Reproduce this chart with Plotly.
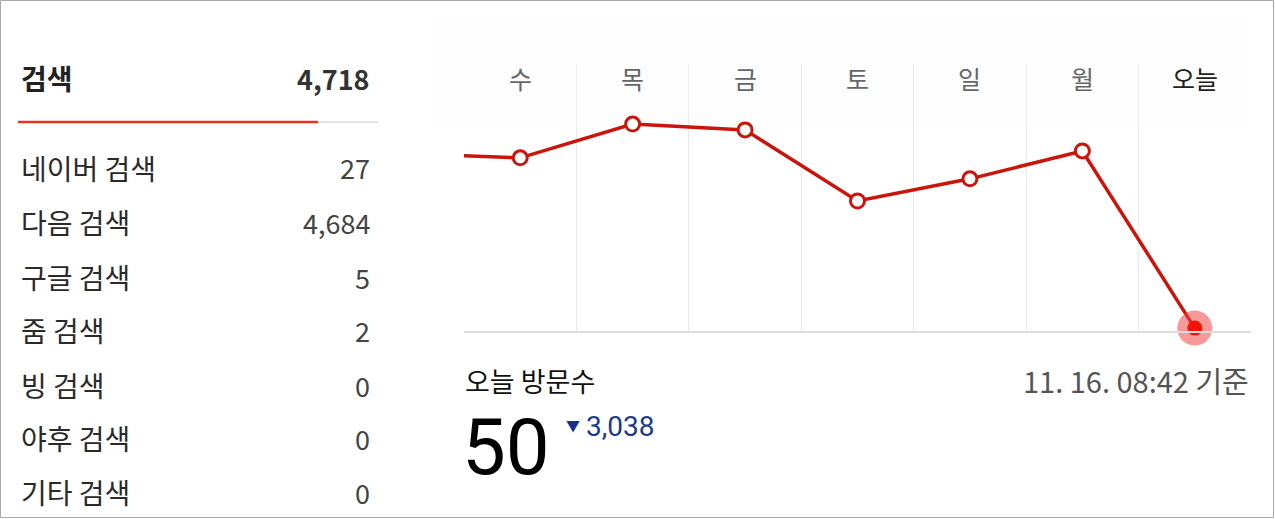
import plotly.graph_objects as go

W, H = 1275, 519

# ---- data ----
days = ["수", "목", "금", "토", "일", "월", "오늘"]
prev_value = 3040          # previous day (화), off the left edge
visits = [2970, 3550, 3450, 2230, 2610, 3088, 50]
today_label = "오늘 방문수"
today_value = "50"
diff_value = "3,038"
timestamp = "11. 16. 08:42 기준"

search_total_label = "검색"
search_total = "4,718"
search_sources = ["네이버 검색", "다음 검색", "구글 검색", "줌 검색", "빙 검색", "야후 검색", "기타 검색"]
search_counts = ["27", "4,684", "5", "2", "0", "0", "0"]

FONT = "Noto Sans CJK KR"
RED = "#c9150c"


def py(p):
    return (H - p) / H


def px(p):
    return p / W


x_idx = list(range(len(days)))

fig = go.Figure()
# line including previous day so it runs off the left edge
fig.add_trace(go.Scatter(
    x=[-1] + x_idx, y=[prev_value] + visits, mode="lines",
    line=dict(color=RED, width=3.5), hoverinfo="skip", showlegend=False))
# hollow markers
fig.add_trace(go.Scatter(
    x=x_idx[:-1], y=visits[:-1], mode="markers",
    marker=dict(size=14, color="white", line=dict(color=RED, width=3)),
    cliponaxis=False, showlegend=False))
# today halo + dot
fig.add_trace(go.Scatter(
    x=x_idx[-1:], y=visits[-1:], mode="markers",
    marker=dict(size=35, color="rgba(240,70,70,0.55)", line=dict(width=0)),
    cliponaxis=False, showlegend=False, hoverinfo="skip"))
fig.add_trace(go.Scatter(
    x=x_idx[-1:], y=visits[-1:], mode="markers",
    marker=dict(size=15, color="#f01409", line=dict(width=0)),
    cliponaxis=False, showlegend=False))

annotations = []
# day labels
for i, d in enumerate(days):
    annotations.append(dict(
        x=i, xref="x", y=py(78), yref="paper", text=d, showarrow=False,
        xanchor="center", yanchor="middle",
        font=dict(family=FONT, size=25, color="#222" if d == "오늘" else "#666")))

# left panel
annotations.append(dict(x=px(19), y=py(78), xref="paper", yref="paper",
                        text="<b>" + search_total_label + "</b>", showarrow=False,
                        xanchor="left", yanchor="middle",
                        font=dict(family=FONT, size=28, color="#222")))
annotations.append(dict(x=px(372), y=py(78), xref="paper", yref="paper",
                        text="<b>" + search_total + "</b>", showarrow=False,
                        xanchor="right", yanchor="middle",
                        font=dict(family=FONT, size=27, color="#333")))
row_y = [168, 222, 277, 330, 385, 438, 492]
for lab, val, yy in zip(search_sources, search_counts, row_y):
    annotations.append(dict(x=px(19), y=py(yy), xref="paper", yref="paper",
                            text=lab, showarrow=False, xanchor="left", yanchor="middle",
                            font=dict(family=FONT, size=28, color="#2a2a2a")))
    annotations.append(dict(x=px(372), y=py(yy), xref="paper", yref="paper",
                            text=val, showarrow=False, xanchor="right", yanchor="middle",
                            font=dict(family=FONT, size=27, color="#444")))

# bottom right texts
annotations.append(dict(x=px(463), y=py(380), xref="paper", yref="paper",
                        text=today_label, showarrow=False, xanchor="left", yanchor="middle",
                        font=dict(family=FONT, size=27, color="#111")))
annotations.append(dict(x=px(1251), y=py(380), xref="paper", yref="paper",
                        text=timestamp, showarrow=False, xanchor="right", yanchor="middle",
                        font=dict(family=FONT, size=29, color="#555")))
annotations.append(dict(x=px(460), y=py(447), xref="paper", yref="paper",
                        text=today_value, showarrow=False, xanchor="left", yanchor="middle",
                        font=dict(family="Roboto", size=78, color="#000")))
annotations.append(dict(x=px(564), y=py(425), xref="paper", yref="paper",
                        text="▼", showarrow=False, xanchor="left", yanchor="middle",
                        font=dict(family=FONT, size=14, color="#1b2f8f")))
annotations.append(dict(x=px(584), y=py(427), xref="paper", yref="paper",
                        text=diff_value, showarrow=False, xanchor="left", yanchor="middle",
                        font=dict(family="Roboto", size=28, color="#1d3a8c")))

shapes = [
    # faint header band
    dict(type="rect", xref="paper", yref="paper", x0=px(430), x1=px(1250),
         y0=py(128), y1=py(18), fillcolor="#fdfdfd", line=dict(width=0), layer="below"),
    # left separator lines
    dict(type="line", xref="paper", yref="paper", x0=px(318), x1=px(378),
         y0=py(122), y1=py(122), line=dict(color="#e2e2e2", width=2)),
    dict(type="line", xref="paper", yref="paper", x0=px(18), x1=px(318),
         y0=py(122), y1=py(122), line=dict(color="#e8341c", width=2.5)),
    # outer border
    dict(type="rect", xref="paper", yref="paper", x0=px(0.5), x1=px(1273.5),
         y0=py(517.5), y1=py(0.5), line=dict(color="#a8a8a8", width=1)),
]

fig.update_layout(
    width=W, height=H, margin=dict(l=0, r=0, t=0, b=0),
    paper_bgcolor="white", plot_bgcolor="rgba(0,0,0,0)",
    showlegend=False, annotations=annotations, shapes=shapes,
    xaxis=dict(domain=[px(464), px(1251)], range=[-0.5, 6.5],
               showticklabels=False, showgrid=False, zeroline=False,
               ticks="", showline=True, linecolor="#dddddd", linewidth=1.5,
               minor=dict(tick0=-0.5, dtick=1, showgrid=True,
                          gridcolor="#ebebeb", gridwidth=1.2)),
    yaxis=dict(domain=[py(331), py(64)], range=[0, 4580],
               showticklabels=False, showgrid=False, zeroline=False, ticks=""),
)

fig.write_html("out.html", config={"displayModeBar": False},
               post_script="document.body.style.margin='0';document.body.style.overflow='hidden';")
